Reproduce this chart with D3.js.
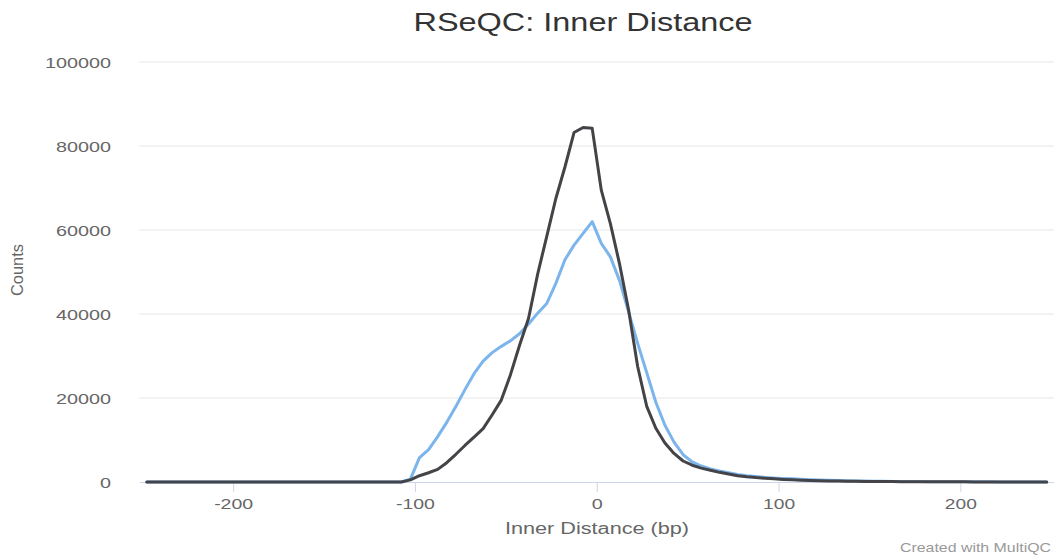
<!DOCTYPE html>
<html>
<head>
<meta charset="utf-8">
<script src="https://cdn.jsdelivr.net/npm/d3@7"></script>
<style>
  body { margin: 0; background: #fff; }
  svg { display: block; font-family: "Liberation Sans", Arial, sans-serif; }
</style>
</head>
<body>
<div id="chart"></div>
<script>
// bin centres (bp)
const distances = [
  -247.5, -242.5, -237.5, -232.5, -227.5, -222.5, -217.5, -212.5, -207.5, -202.5,
  -197.5, -192.5, -187.5, -182.5, -177.5, -172.5, -167.5, -162.5, -157.5, -152.5,
  -147.5, -142.5, -137.5, -132.5, -127.5, -122.5, -117.5, -112.5, -107.5, -102.5,
  -97.5, -92.5, -87.5, -82.5, -77.5, -72.5, -67.5, -62.5, -57.5, -52.5,
  -47.5, -42.5, -37.5, -32.5, -27.5, -22.5, -17.5, -12.5, -7.5, -2.5,
  2.5, 7.5, 12.5, 17.5, 22.5, 27.5, 32.5, 37.5, 42.5, 47.5,
  52.5, 57.5, 62.5, 67.5, 72.5, 77.5, 82.5, 87.5, 92.5, 97.5,
  102.5, 107.5, 112.5, 117.5, 122.5, 127.5, 132.5, 137.5, 142.5, 147.5,
  152.5, 157.5, 162.5, 167.5, 172.5, 177.5, 182.5, 187.5, 192.5, 197.5,
  202.5, 207.5, 212.5, 217.5, 222.5, 227.5, 232.5, 237.5, 242.5, 247.5
];

// sample 1 (blue)
const sampleA = [
  0, 0, 0, 0, 0, 0, 0, 0, 0, 0,
  0, 0, 0, 0, 0, 0, 0, 0, 0, 0,
  0, 0, 0, 0, 0, 0, 0, 0, 0, 700,
  5800, 7700, 10800, 14200, 18000, 22000, 25800, 28800, 30800, 32300,
  33600, 35300, 37600, 40200, 42500, 47300, 52900, 56400, 59200, 62000,
  56800, 53600, 48000, 40500, 33000, 26000, 19000, 13500, 9500, 6500,
  4800, 3800, 3100, 2600, 2200, 1800, 1500, 1300, 1100, 950,
  850, 750, 650, 560, 480, 410, 350, 300, 260, 220,
  190, 160, 140, 120, 100, 90, 80, 70, 60, 50,
  45, 40, 35, 30, 25, 20, 20, 15, 10, 10
];

// sample 2 (dark)
const sampleB = [
  0, 0, 0, 0, 0, 0, 0, 0, 0, 0,
  0, 0, 0, 0, 0, 0, 0, 0, 0, 0,
  0, 0, 0, 0, 0, 0, 0, 0, 0, 500,
  1500, 2200, 3000, 4600, 6600, 8700, 10700, 12700, 16000, 19500,
  25500, 32500, 39000, 49500, 58500, 67500, 75000, 83200, 84400, 84200,
  69500, 61500, 52000, 41000, 27500, 18000, 12800, 9300, 6800, 5000,
  4000, 3300, 2800, 2300, 1900, 1500, 1250, 1050, 900, 750,
  620, 520, 440, 370, 310, 260, 220, 190, 160, 140,
  120, 100, 90, 80, 70, 60, 50, 45, 40, 35,
  30, 28, 25, 22, 20, 18, 15, 12, 10, 10
];

const xTicks = [-200, -100, 0, 100, 200];
const yTicks = [0, 20000, 40000, 60000, 80000, 100000];
const seriesColors = ['#7cb5ec', '#434348'];

const W = 1057, H = 556;
const margin = { top: 62, right: 3, bottom: 74, left: 139.5 };

const svg = d3.select('#chart').append('svg')
  .attr('width', W).attr('height', H);

const x = d3.scaleLinear().domain([-251.5, 251.5]).range([margin.left, W - margin.right]);
const y = d3.scaleLinear().domain([0, 100000]).range([H - margin.bottom, margin.top]);

// plain hyphen for negatives, like the original
const fmt = d => String(d);

// title
svg.append('text')
  .attr('x', 583).attr('y', 31)
  .attr('text-anchor', 'middle')
  .attr('fill', '#333')
  .style('font-size', '26px')
  .attr('textLength', 339).attr('lengthAdjust', 'spacingAndGlyphs')
  .text('RSeQC: Inner Distance');

// gridlines
svg.append('g')
  .selectAll('line')
  .data(yTicks.filter(d => d > 0))
  .join('line')
  .attr('x1', margin.left).attr('x2', W - margin.right)
  .attr('y1', d => y(d)).attr('y2', d => y(d))
  .attr('stroke', '#e6e6e6').attr('stroke-width', 1);

// y axis labels
const yAxis = d3.axisLeft(y).tickValues(yTicks).tickSize(0).tickPadding(0).tickFormat(fmt);
const gy = svg.append('g').attr('transform', `translate(111,0)`).call(yAxis);
gy.select('.domain').remove();
gy.selectAll('text')
  .attr('fill', '#666')
  .style('font-size', '15px')
  .attr('dy', '0.35em')
  .each(function(d) {
    const n = String(d).length;
    d3.select(this).attr('textLength', n * 11).attr('lengthAdjust', 'spacingAndGlyphs');
  });

// x axis
const xAxis = d3.axisBottom(x).tickValues(xTicks).tickSize(10).tickPadding(6).tickFormat(fmt);
const gx = svg.append('g').attr('transform', `translate(0,${y(0)})`).call(xAxis);
gx.select('.domain').attr('stroke', '#ccd6eb').attr('d', `M${margin.left},0.5H${W - margin.right}`);
gx.selectAll('.tick line').attr('stroke', '#ccd6eb');
gx.selectAll('text')
  .attr('fill', '#666')
  .style('font-size', '15px')
  .each(function(d) {
    const n = String(d).length;
    d3.select(this).attr('textLength', d < 0 ? 39 : (n === 1 ? 11 : 32)).attr('lengthAdjust', 'spacingAndGlyphs');
  });

// axis titles
svg.append('text')
  .attr('transform', 'translate(23,270) rotate(-90)')
  .attr('text-anchor', 'middle')
  .attr('fill', '#666')
  .style('font-size', '16px')
  .attr('textLength', 52).attr('lengthAdjust', 'spacingAndGlyphs')
  .text('Counts');

svg.append('text')
  .attr('x', 597).attr('y', 534)
  .attr('text-anchor', 'middle')
  .attr('fill', '#666')
  .style('font-size', '16px')
  .attr('textLength', 184).attr('lengthAdjust', 'spacingAndGlyphs')
  .text('Inner Distance (bp)');

svg.append('text')
  .attr('x', 1051).attr('y', 552)
  .attr('text-anchor', 'end')
  .attr('fill', '#999')
  .style('font-size', '13px')
  .attr('textLength', 151).attr('lengthAdjust', 'spacingAndGlyphs')
  .text('Created with MultiQC');

// lines
const line = d3.line()
  .x((d, i) => x(distances[i]))
  .y(d => y(d));

[sampleA, sampleB].forEach((vals, k) => {
  svg.append('path')
    .datum(vals)
    .attr('d', line)
    .attr('fill', 'none')
    .attr('stroke', seriesColors[k])
    .attr('stroke-width', 3)
    .attr('stroke-linejoin', 'round')
    .attr('stroke-linecap', 'round');
});
</script>
</body>
</html>
